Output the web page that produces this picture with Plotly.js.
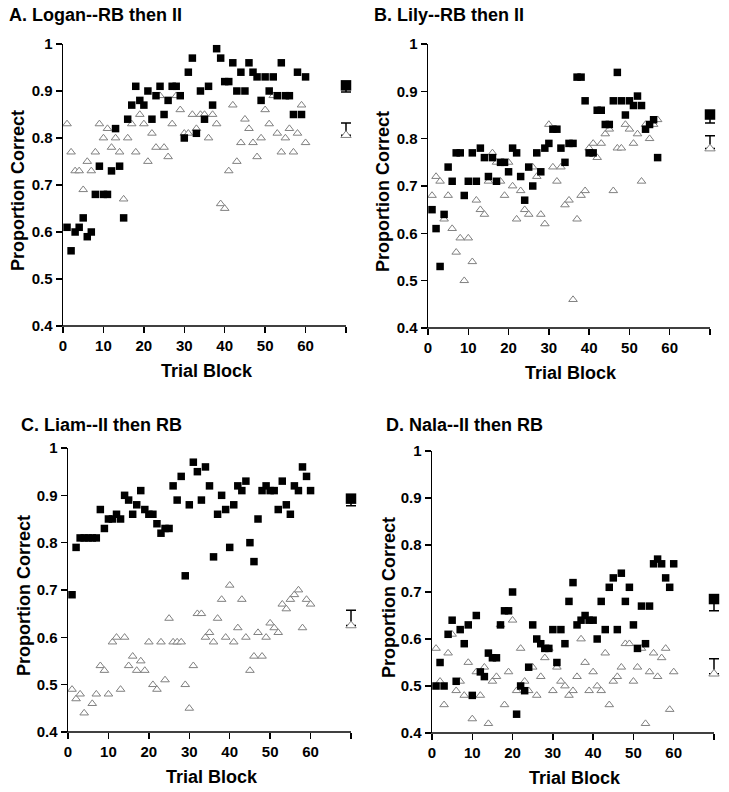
<!DOCTYPE html>
<html>
<head>
<meta charset="utf-8">
<script src="https://cdn.plot.ly/plotly-3.0.1.min.js"></script>
<style>html,body{margin:0;padding:0;background:#fff;}#chart{width:729px;height:792px;}</style>
</head>
<body>
<div id="chart"></div>
<script>
// ---------- DATA ----------
const panelTitles = ["A. Logan--RB then II", "B. Lily--RB then II", "C. Liam--II then RB", "D. Nala--II then RB"];
const xTickVals = [0, 10, 20, 30, 40, 50, 60, 70];
const xTickText = ["0", "10", "20", "30", "40", "50", "60", ""];
const yTickVals = [0.4, 0.5, 0.6, 0.7, 0.8, 0.9, 1];
const yTickText = ["0.4", "0.5", "0.6", "0.7", "0.8", "0.9", "1"];
const xTitle = "Trial Block";
const yTitle = "Proportion Correct";
const meanX = 70;

// Panel A: Logan
const loganFilled = [0.61,0.56,0.60,0.61,0.63,0.59,0.60,0.68,0.74,0.68,0.68,0.73,0.82,0.74,0.63,0.84,0.87,0.91,0.88,0.87,
  0.90,0.84,0.89,0.91,0.85,0.88,0.91,0.91,0.89,0.80,0.94,0.97,0.81,0.90,0.84,0.91,0.87,0.99,0.97,0.92,
  0.92,0.96,0.90,0.94,0.90,0.96,0.94,0.93,0.88,0.93,0.90,0.93,0.89,0.96,0.89,0.89,0.85,0.94,0.85,0.93];
const loganOpen = [0.83,0.77,0.73,0.73,0.69,0.75,0.73,0.77,0.83,0.80,0.82,0.78,0.80,0.77,0.67,0.80,0.83,0.77,0.85,0.83,
  0.75,0.81,0.78,0.89,0.78,0.76,0.83,0.89,0.86,0.81,0.81,0.85,0.82,0.85,0.85,0.80,0.85,0.83,0.66,0.65,
  0.73,0.87,0.75,0.79,0.84,0.82,0.79,0.76,0.80,0.86,0.83,0.89,0.81,0.77,0.80,0.82,0.77,0.81,0.87,0.79];
const loganMeans = {filled: 0.912, filledErr: 0.014, open: 0.806, openErr: 0.026};

// Panel B: Lily
const lilyFilled = [0.65,0.61,0.53,0.64,0.74,0.71,0.77,0.77,0.68,0.71,0.77,0.71,0.78,0.76,0.72,0.76,0.71,0.75,0.75,0.73,
  0.78,0.77,0.72,0.67,0.74,0.70,0.77,0.73,0.78,0.79,0.82,0.82,0.78,0.75,0.79,0.79,0.93,0.93,0.88,0.77,
  0.77,0.86,0.86,0.83,0.83,0.88,0.94,0.88,0.85,0.88,0.87,0.89,0.87,0.82,0.83,0.84,0.76];
const lilyOpen = [0.68,0.72,0.71,0.63,0.68,0.61,0.56,0.59,0.50,0.59,0.54,0.67,0.65,0.64,0.71,0.77,0.75,0.71,0.68,0.75,
  0.70,0.63,0.69,0.65,0.64,0.74,0.72,0.64,0.62,0.83,0.74,0.71,0.74,0.66,0.67,0.46,0.63,0.68,0.69,0.78,
  0.79,0.76,0.79,0.81,0.82,0.69,0.78,0.78,0.83,0.82,0.79,0.81,0.71,0.83,0.80,0.83,0.84];
const lilyMeans = {filled: 0.851, filledErr: 0.018, open: 0.779, openErr: 0.027};

// Panel C: Liam
const liamFilled = [0.69,0.79,0.81,0.81,0.81,0.81,0.81,0.87,0.83,0.85,0.85,0.86,0.85,0.90,0.89,0.86,0.88,0.91,0.87,0.86,
  0.86,0.84,0.82,0.83,0.83,0.92,0.89,0.94,0.73,0.88,0.97,0.95,0.89,0.96,0.92,0.77,0.86,0.90,0.87,0.79,
  0.88,0.92,0.91,0.93,0.80,0.76,0.85,0.91,0.92,0.91,0.91,0.87,0.93,0.88,0.86,0.92,0.91,0.96,0.94,0.91];
const liamOpen = [0.49,0.47,0.48,0.44,0.39,0.46,0.48,0.54,0.53,0.48,0.59,0.60,0.49,0.60,0.54,0.56,0.53,0.55,0.53,0.59,
  0.50,0.49,0.59,0.51,0.64,0.59,0.59,0.59,0.50,0.45,0.54,0.65,0.65,0.60,0.61,0.59,0.64,0.68,0.60,0.71,
  0.59,0.62,0.68,0.60,0.53,0.56,0.61,0.56,0.60,0.63,0.62,0.61,0.67,0.66,0.68,0.69,0.70,0.62,0.68,0.67];
const liamMeans = {filled: 0.893, filledErr: 0.015, open: 0.625, openErr: 0.032};

// Panel D: Nala
const nalaFilled = [0.50,0.55,0.50,0.61,0.64,0.51,0.62,0.59,0.63,0.48,0.65,0.53,0.52,0.57,0.56,0.56,0.63,0.66,0.66,0.70,
  0.44,0.50,0.49,0.54,0.63,0.60,0.59,0.58,0.58,0.62,0.55,0.62,0.59,0.68,0.72,0.63,0.64,0.65,0.64,0.64,
  0.60,0.68,0.62,0.71,0.73,0.62,0.74,0.68,0.71,0.63,0.58,0.67,0.59,0.67,0.76,0.77,0.76,0.73,0.71,0.76];
const nalaOpen = [0.58,0.51,0.46,0.57,0.61,0.49,0.51,0.48,0.55,0.43,0.53,0.48,0.54,0.42,0.51,0.52,0.63,0.46,0.53,0.64,
  0.49,0.58,0.51,0.49,0.54,0.48,0.52,0.56,0.58,0.49,0.54,0.51,0.50,0.48,0.49,0.52,0.60,0.55,0.49,0.53,
  0.50,0.49,0.57,0.46,0.51,0.52,0.54,0.59,0.59,0.51,0.54,0.58,0.42,0.53,0.57,0.52,0.56,0.58,0.45,0.53];
const nalaMeans = {filled: 0.685, filledErr: 0.025, open: 0.526, openErr: 0.032};

// ---------- LAYOUT GEOMETRY (pixels) ----------
const W = 729, H = 792;
const X_AXIS_END = 70;   // axis line ends here
const X_RANGE_END = 72;  // plot area extends a bit further so the mean error caps are not clipped
const panels = [
  {filled: loganFilled, open: loganOpen, means: loganMeans, x0: 63, x1: 346, y0: 44, y1: 326, tx: 7, ty: 15, ytx: 18},
  {filled: lilyFilled, open: lilyOpen, means: lilyMeans, x0: 428, x1: 710, y0: 44, y1: 328, tx: 372, ty: 15, ytx: 383},
  {filled: liamFilled, open: liamOpen, means: liamMeans, x0: 68, x1: 351, y0: 448, y1: 732, tx: 19, ty: 425, ytx: 24},
  {filled: nalaFilled, open: nalaOpen, means: nalaMeans, x0: 432, x1: 714, y0: 451, y1: 733, tx: 384, ty: 425, ytx: 389}
];

const FONT = "Liberation Sans, Arial, Helvetica, sans-serif";
const traces = [];
const layout = {
  width: W, height: H,
  margin: {l: 0, r: 0, t: 0, b: 0},
  paper_bgcolor: "#fff", plot_bgcolor: "#fff",
  showlegend: false,
  font: {family: FONT, color: "#000"},
  annotations: [],
  shapes: []
};

function px(x) { return x / W; }
function py(y) { return 1 - y / H; }

panels.forEach((p, i) => {
  const k = i === 0 ? "" : String(i + 1);
  const xa = "x" + k, ya = "y" + k;
  const blocks = p.filled.map((_, j) => j + 1);
  const blocksOpen = p.open.map((_, j) => j + 1);

  traces.push({
    type: "scatter", mode: "markers", x: blocksOpen, y: p.open, xaxis: xa, yaxis: ya,
    cliponaxis: false, hoverinfo: "skip",
    marker: {symbol: "triangle-up", size: 7.5, color: "#fff", line: {color: "#808080", width: 1}}
  });
  traces.push({
    type: "scatter", mode: "markers", x: [meanX], y: [p.means.open], xaxis: xa, yaxis: ya,
    cliponaxis: false, hoverinfo: "skip",
    error_y: {type: "data", symmetric: false, array: [p.means.openErr], arrayminus: [0], color: "#000", thickness: 1.5, width: 5},
    marker: {symbol: "triangle-up", size: 9, color: "#fff", line: {color: "#808080", width: 1}}
  });
  traces.push({
    type: "scatter", mode: "markers", x: blocks, y: p.filled, xaxis: xa, yaxis: ya,
    cliponaxis: false, hoverinfo: "skip",
    marker: {symbol: "square", size: 7.5, color: "#000", line: {width: 0}}
  });
  traces.push({
    type: "scatter", mode: "markers", x: [meanX], y: [p.means.filled], xaxis: xa, yaxis: ya,
    cliponaxis: false, hoverinfo: "skip",
    error_y: {type: "data", symmetric: false, array: [0], arrayminus: [p.means.filledErr], color: "#000", thickness: 1.5, width: 5},
    marker: {symbol: "square", size: 10.5, color: "#000", line: {width: 0}}
  });

  const axCommon = {
    linecolor: "#000", linewidth: 1.5, mirror: false,
    ticks: "outside", ticklen: 6, tickwidth: 1.5, tickcolor: "#000",
    showgrid: false, zeroline: false, fixedrange: true,
    tickfont: {family: FONT, size: 15, color: "#000", weight: "bold"}
  };
  const xEndPx = p.x0 + (p.x1 - p.x0) * X_RANGE_END / X_AXIS_END;
  layout["xaxis" + k] = Object.assign({}, axCommon, {
    showline: false,
    domain: [px(p.x0), px(xEndPx)], range: [0, X_RANGE_END], anchor: ya,
    tickmode: "array", tickvals: xTickVals, ticktext: xTickText
  });
  layout["yaxis" + k] = Object.assign({}, axCommon, {
    showline: true,
    domain: [py(p.y1), py(p.y0)], range: [0.4, 1], anchor: xa,
    tickmode: "array", tickvals: yTickVals, ticktext: yTickText
  });

  // x axis line from 0 to 70 only
  layout.shapes.push({
    type: "line", xref: xa + " domain", yref: ya + " domain",
    x0: -0.003, x1: X_AXIS_END / X_RANGE_END, y0: 0, y1: 0,
    line: {color: "#000", width: 1.5}, layer: "above"
  });

  layout.annotations.push({
    text: panelTitles[i], xref: "paper", yref: "paper", x: px(p.tx), y: py(p.ty),
    xanchor: "left", yanchor: "middle", showarrow: false,
    font: {family: FONT, size: 18, color: "#000", weight: "bold"}
  });
  layout.annotations.push({
    text: xTitle, xref: "paper", yref: "paper", x: px((p.x0 + p.x1) / 2 + 2), y: py(p.y1 + 45),
    xanchor: "center", yanchor: "middle", showarrow: false,
    font: {family: FONT, size: 18, color: "#000", weight: "bold"}
  });
  layout.annotations.push({
    text: yTitle, xref: "paper", yref: "paper", x: px(p.ytx), y: py((p.y0 + p.y1) / 2 + 6),
    xanchor: "center", yanchor: "middle", showarrow: false, textangle: -90,
    font: {family: FONT, size: 18, color: "#000", weight: "bold"}
  });
});

Plotly.newPlot("chart", traces, layout, {staticPlot: true, displayModeBar: false});
</script>
</body>
</html>
